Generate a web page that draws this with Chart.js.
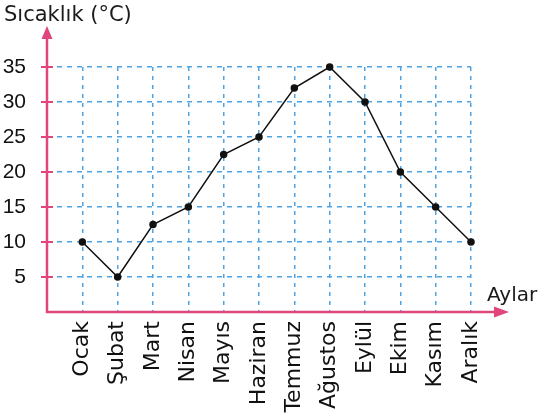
<!DOCTYPE html>
<html>
<head>
<meta charset="utf-8">
<script src="https://cdn.jsdelivr.net/npm/chart.js@4"></script>
<style>
html,body{margin:0;padding:0;background:#fff;}
#wrap{width:543px;height:417px;position:relative;}
</style>
</head>
<body>
<div id="wrap"><canvas id="c" width="543" height="417"></canvas></div>
<script>
const months = ['Ocak','Şubat','Mart','Nisan','Mayıs','Haziran','Temmuz','Ağustos','Eylül','Ekim','Kasım','Aralık'];
const temps = [10, 5, 12.5, 15, 22.5, 25, 32, 35, 30, 20, 15, 10];
const yTicks = [5, 10, 15, 20, 25, 30, 35];
const yTitle = 'Sıcaklık (°C)';
const xTitle = 'Aylar';

const PINK = '#e0457d';
const BLUE = '#4fa3e2';

const axesPlugin = {
  id: 'axesPlugin',
  beforeDatasetsDraw(chart) {
    const {ctx, chartArea: a, scales} = chart;
    const ys = scales.y;
    ctx.save();
    ctx.strokeStyle = PINK;
    ctx.fillStyle = PINK;
    ctx.lineWidth = 2.5;
    // y axis
    ctx.beginPath();
    ctx.moveTo(a.left, a.bottom + 1);
    ctx.lineTo(a.left, 36);
    ctx.stroke();
    ctx.beginPath();
    ctx.moveTo(a.left, 26);
    ctx.lineTo(a.left - 5.5, 39);
    ctx.lineTo(a.left + 5.5, 39);
    ctx.closePath();
    ctx.fill();
    // x axis
    ctx.beginPath();
    ctx.moveTo(a.left - 1, a.bottom);
    ctx.lineTo(497, a.bottom);
    ctx.stroke();
    ctx.beginPath();
    ctx.moveTo(509, a.bottom);
    ctx.lineTo(494, a.bottom - 5.5);
    ctx.lineTo(494, a.bottom + 5.5);
    ctx.closePath();
    ctx.fill();
    // y tick marks
    ctx.lineWidth = 2;
    yTicks.forEach(v => {
      const py = ys.getPixelForValue(v);
      ctx.beginPath();
      ctx.moveTo(a.left - 6, py);
      ctx.lineTo(a.left + 6, py);
      ctx.stroke();
    });
    // titles
    ctx.fillStyle = '#1a1a1a';
    ctx.font = '21px "DejaVu Sans"';
    ctx.textBaseline = 'alphabetic';
    ctx.textAlign = 'left';
    ctx.fillText(yTitle, 4, 21);
    ctx.font = '20px "DejaVu Sans"';
    ctx.fillText(xTitle, 487, 301);
    ctx.restore();
  }
};

new Chart(document.getElementById('c'), {
  type: 'line',
  data: {
    datasets: [{
      data: temps.map((t, i) => ({x: i, y: t})),
      borderColor: '#111',
      borderWidth: 1.5,
      pointRadius: 3,
      pointBackgroundColor: '#111',
      pointBorderColor: '#111',
      tension: 0,
      fill: false,
      clip: false
    }]
  },
  options: {
    responsive: false,
    animation: false,
    devicePixelRatio: 1,
    layout: {padding: {left: 0, top: 67, right: 72, bottom: 0}},
    plugins: {legend: {display: false}, tooltip: {enabled: false}},
    scales: {
      x: {
        type: 'linear',
        min: -1,
        max: 11,
        afterFit(s) { s.height = 105; },
        afterBuildTicks(s) { s.ticks = months.map((m, i) => ({value: i})).concat([{value: -1}]); },
        grid: {color: BLUE, lineWidth: 1.5, drawTicks: false},
        border: {display: false, dash: [4, 5]},
        ticks: {
          autoSkip: false,
          minRotation: 90,
          maxRotation: 90,
          padding: 9,
          color: '#111',
          font: {family: '"DejaVu Sans"', size: 22},
          callback: v => (v >= 0 && months[v] !== undefined) ? months[v] : ''
        }
      },
      y: {
        min: 0,
        max: 35,
        afterFit(s) { s.width = 47; },
        afterBuildTicks(s) { s.ticks = [0].concat(yTicks).map(v => ({value: v})); },
        grid: {color: BLUE, lineWidth: 1.5, drawTicks: false},
        border: {display: false, dash: [5, 5]},
        ticks: {
          padding: 21,
          color: '#111',
          font: {family: '"Liberation Sans"', size: 21},
          callback: v => v === 0 ? '' : String(v)
        }
      }
    }
  },
  plugins: [axesPlugin]
});
</script>
</body>
</html>
